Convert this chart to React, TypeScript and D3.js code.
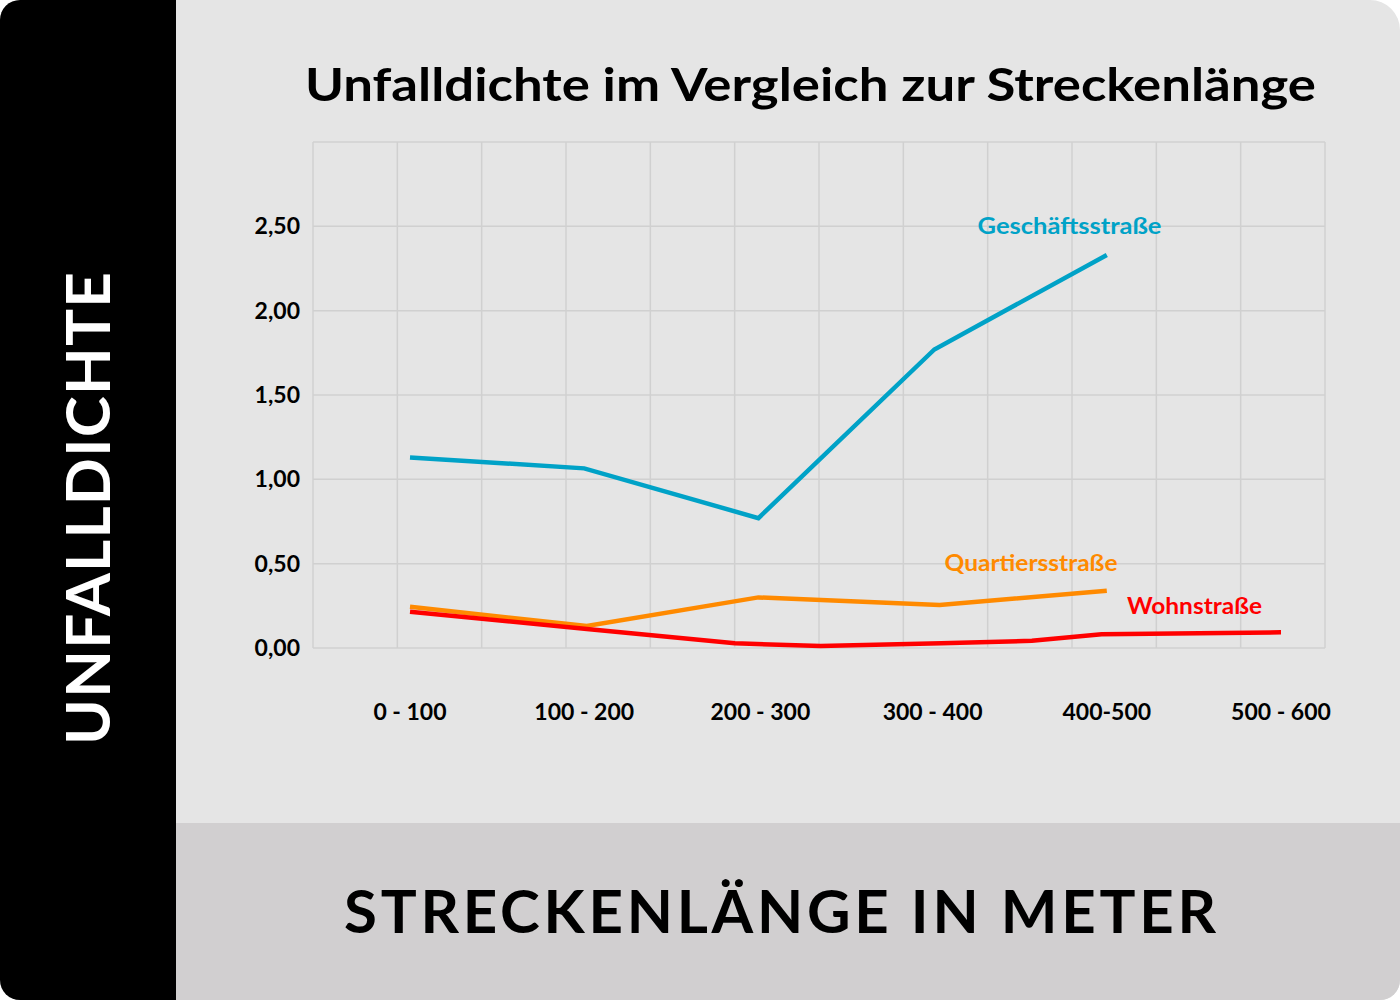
import React from "react";
import * as d3 from "d3";

const categories = ["0 - 100", "100 - 200", "200 - 300", "300 - 400", "400-500", "500 - 600"];
const yTicks = [0, 0.5, 1, 1.5, 2, 2.5];

// x given as position on the category axis (0 = "0 - 100", 5 = "500 - 600")
const geschaeftX = [0, 1, 2, 3.01, 4];
const geschaeftY = [1.13, 1.065, 0.77, 1.77, 2.33];
const quartierX = [0, 1.015, 2.0, 3.04, 4.0];
const quartierY = [0.245, 0.13, 0.3, 0.255, 0.34];
const wohnX = [0, 1.015, 1.865, 2.357, 3.05, 3.57, 3.97, 5.0];
const wohnY = [0.215, 0.113, 0.028, 0.012, 0.028, 0.043, 0.081, 0.093];

const seriesNames = ["Geschäftsstraße", "Quartiersstraße", "Wohnstraße"];
const colors = ["#00a2c7", "#ff8a00", "#ff0000"];

const FONT = "Lato, 'Open Sans', sans-serif";

export default function App() {
  const W = 1400, H = 1000;
  const y = d3.scaleLinear().domain([0, 3]).range([648, 142]);
  const gridX = d3.scaleLinear().domain([0, 12]).range([313, 1325]);
  const xPos = d3.scaleLinear().domain([0, 5]).range([410, 1281]);
  const xCat = d3.scalePoint<string>().domain(categories).range([410, 1281]);

  const line = d3
    .line<[number, number]>()
    .x((d) => xPos(d[0]))
    .y((d) => y(d[1]));

  const series = [
    { xs: geschaeftX, ys: geschaeftY },
    { xs: quartierX, ys: quartierY },
    { xs: wohnX, ys: wohnY },
  ].map((s) => s.xs.map((x, i) => [x, s.ys[i]] as [number, number]));

  const fmt = (v: number) => d3.format(".2f")(v).replace(".", ",");

  const cardPath =
    "M20,0 H1370 A30,30 0 0 1 1400,30 V980 A20,20 0 0 1 1380,1000 H20 A20,20 0 0 1 0,980 V20 A20,20 0 0 1 20,0 Z";

  const labels = [
    { text: seriesNames[0], x: 977.5, y: 234, len: 184 },
    { text: seriesNames[1], x: 944.5, y: 570.5, len: 173 },
    { text: seriesNames[2], x: 1127, y: 614, len: 135 },
  ];

  return (
    <svg
      width={W}
      height={H}
      style={{ position: "absolute", left: 0, top: 0, display: "block" }}
      fontFamily={FONT}
    >
      <defs>
        <clipPath id="card">
          <path d={cardPath} />
        </clipPath>
      </defs>
      <rect x={0} y={0} width={W} height={H} fill="#ffffff" />
      <g clipPath="url(#card)">
        <rect x={0} y={0} width={W} height={H} fill="#e5e5e5" />
        <rect x={176} y={823} width={W - 176} height={H - 823} fill="#d1cfd0" />
        <rect x={0} y={0} width={176} height={H} fill="#000000" />
      </g>

      {/* grid */}
      <g stroke="#d0d0d0" strokeWidth={1.5} fill="none">
        {d3.range(0, 13).map((i) => (
          <line key={"v" + i} x1={gridX(i)} x2={gridX(i)} y1={y(3)} y2={y(0)} />
        ))}
        {d3.range(0, 7).map((i) => (
          <line key={"h" + i} x1={gridX(0)} x2={gridX(12)} y1={y(i * 0.5)} y2={y(i * 0.5)} />
        ))}
      </g>

      {/* y tick labels */}
      <g fontSize={23} fontWeight={700} fill="#000" textAnchor="end">
        {yTicks.map((t) => (
          <text key={t} x={300} y={y(t) + 8}>
            {fmt(t)}
          </text>
        ))}
      </g>

      {/* x category labels */}
      <g fontSize={23} fontWeight={700} fill="#000" textAnchor="middle">
        {categories.map((c, i) => (
          <text key={c} x={(xCat(c) as number) + (i === 2 ? 2 : 0)} y={720}>
            {c}
          </text>
        ))}
      </g>

      {/* lines */}
      {series.map((s, i) => (
        <path
          key={i}
          d={line(s) || ""}
          fill="none"
          stroke={colors[i]}
          strokeWidth={4.5}
          strokeLinejoin="miter"
        />
      ))}

      {/* series labels */}
      {labels.map((l, i) => (
        <text
          key={l.text}
          x={l.x}
          y={l.y}
          fill={colors[i]}
          fontSize={23}
          fontWeight={700}
          textLength={l.len}
          lengthAdjust="spacingAndGlyphs"
        >
          {l.text}
        </text>
      ))}

      {/* title */}
      <text
        x={305}
        y={101}
        fontSize={46}
        fontWeight={700}
        fill="#000"
        textLength={1011}
        lengthAdjust="spacingAndGlyphs"
      >
        Unfalldichte im Vergleich zur Streckenlänge
      </text>

      {/* y axis title */}
      <text
        transform="translate(110,508.5) rotate(-90)"
        textAnchor="middle"
        fontSize={62}
        fontWeight={700}
        fill="#ffffff"
        textLength={473}
        lengthAdjust="spacing"
      >
        UNFALLDICHTE
      </text>

      {/* x axis title */}
      <text
        x={780}
        y={933}
        textAnchor="middle"
        fontSize={60}
        fontWeight={700}
        fill="#000"
        textLength={872}
        lengthAdjust="spacing"
      >
        STRECKENLÄNGE IN METER
      </text>
    </svg>
  );
}
